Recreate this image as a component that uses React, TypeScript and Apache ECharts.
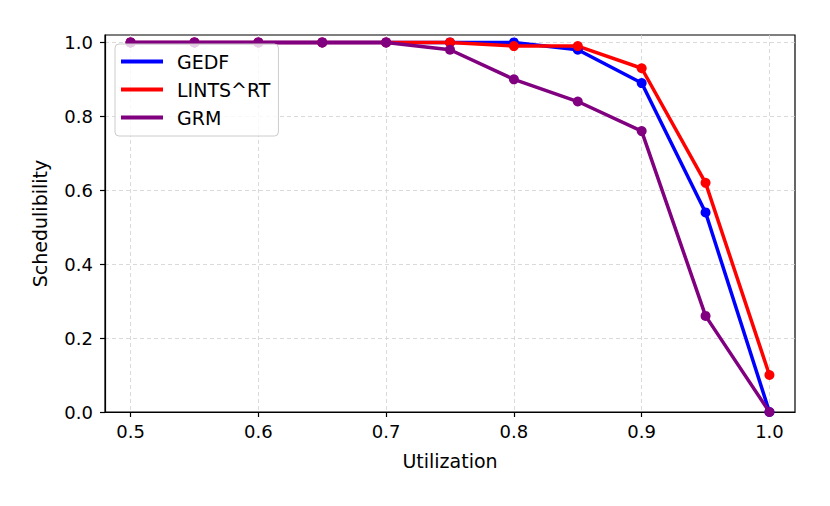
import React, { useEffect, useRef } from "react";
import * as echarts from "echarts";

const utilization = [0.5, 0.55, 0.6, 0.65, 0.7, 0.75, 0.8, 0.85, 0.9, 0.95, 1.0];
const gedf = [1, 1, 1, 1, 1, 1, 1.0, 0.98, 0.89, 0.54, 0.0];
const lints = [1, 1, 1, 1, 1, 1, 0.99, 0.99, 0.93, 0.62, 0.1];
const grm = [1, 1, 1, 1, 1, 0.98, 0.9, 0.84, 0.76, 0.26, 0.0];
const xTicks = [0.5, 0.6, 0.7, 0.8, 0.9, 1.0];
const yTicks = [0, 0.2, 0.4, 0.6, 0.8, 1.0];

const FONT = "DejaVu Sans";

export default function App() {
  const ref = useRef<HTMLDivElement>(null);
  useEffect(() => {
    if (!ref.current) return;
    const chart = echarts.init(ref.current, null, { renderer: "svg" });
    const mk = (name: string, data: number[], color: string) => ({
      name,
      type: "line",
      data: utilization.map((u, i) => [u, data[i]]),
      symbol: "circle",
      symbolSize: 10,
      showSymbol: true,
      lineStyle: { color, width: 3.5 },
      itemStyle: { color, borderWidth: 0 },
      emphasis: { disabled: true },
      clip: false,
    });
    chart.setOption({
      animation: false,
      backgroundColor: "#fff",
      grid: {
        left: 105,
        right: 35,
        top: 35,
        bottom: 94,
        show: true,
        borderColor: "#000",
        borderWidth: 1.2,
        backgroundColor: "transparent",
      },
      legend: {
        orient: "vertical",
        left: 115,
        top: 44,
        icon: "rect",
        itemWidth: 42,
        itemHeight: 4,
        itemGap: 7,
        padding: [7, 8, 8, 6],
        backgroundColor: "rgba(255,255,255,0.8)",
        borderColor: "#cccccc",
        borderWidth: 1,
        borderRadius: 4,
        textStyle: {
          fontFamily: FONT,
          fontSize: 19,
          color: "#000",
          lineHeight: 21,
          padding: [0, 0, 0, 9],
        },
        data: ["GEDF", "LINTS^RT", "GRM"],
      },
      xAxis: {
        type: "value",
        min: 0.48,
        max: 1.02,
        name: "Utilization",
        nameLocation: "middle",
        nameGap: 39,
        nameTextStyle: { fontFamily: FONT, fontSize: 19, color: "#000" },
        axisLine: { show: true, onZero: false, lineStyle: { color: "#000", width: 1.2 } },
        axisTick: { show: true, length: 5, customValues: xTicks, lineStyle: { color: "#000", width: 1.2 } },
        axisLabel: {
          customValues: xTicks,
          margin: 10,
          fontFamily: FONT,
          fontSize: 18,
          color: "#000",
          formatter: (v: number) => v.toFixed(1),
        },
        splitLine: { show: true, lineStyle: { color: "#d0d0d0", width: 0.8, type: [4, 3] } },
      },
      yAxis: {
        type: "value",
        min: 0,
        max: 1.02,
        name: "Schedulibility",
        nameLocation: "middle",
        nameGap: 56,
        nameTextStyle: { fontFamily: FONT, fontSize: 19, color: "#000" },
        axisLine: { show: true, onZero: false, lineStyle: { color: "#000", width: 1.2 } },
        axisTick: { show: true, length: 5, customValues: yTicks, lineStyle: { color: "#000", width: 1.2 } },
        axisLabel: {
          customValues: yTicks,
          margin: 12,
          fontFamily: FONT,
          fontSize: 18,
          color: "#000",
          formatter: (v: number) => v.toFixed(1),
        },
        splitLine: { show: true, lineStyle: { color: "#d0d0d0", width: 0.8, type: [4, 3] } },
      },
      series: [
        mk("GEDF", gedf, "#0000ff"),
        mk("LINTS^RT", lints, "#ff0000"),
        mk("GRM", grm, "#800080"),
      ],
    });
    return () => chart.dispose();
  }, []);
  return <div ref={ref} style={{ width: 830, height: 506, position: "absolute", left: 0, top: 0 }} />;
}
